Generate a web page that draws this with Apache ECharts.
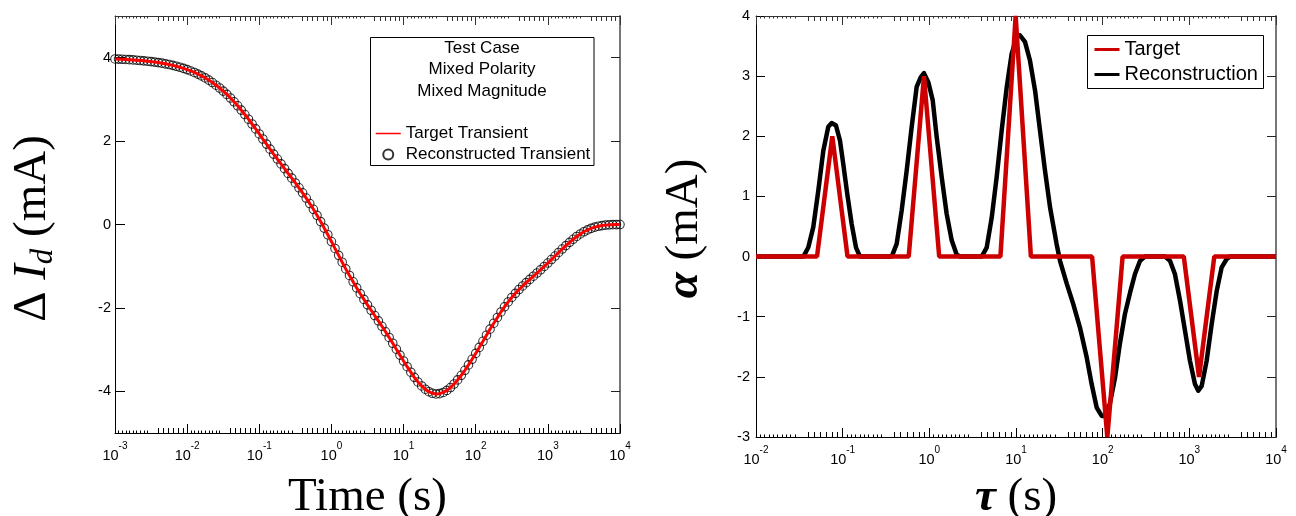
<!DOCTYPE html>
<html><head><meta charset="utf-8">
<script src="https://cdn.jsdelivr.net/npm/echarts/dist/echarts.min.js"></script>
<style>html,body{margin:0;padding:0;background:#fff}#c{width:1296px;height:516px}</style>
</head><body><div id="c"></div>
<script>
// ---------- data: left panel (transient) ----------
const timeS = [
1e-3,1.12e-3,1.26e-3,1.41e-3,1.58e-3,1.78e-3,2e-3,2.24e-3,2.51e-3,2.82e-3,3.16e-3,3.55e-3,3.98e-3,4.47e-3,5.01e-3,5.62e-3,6.31e-3,7.08e-3,7.94e-3,8.91e-3,
1e-2,1.12e-2,1.26e-2,1.41e-2,1.58e-2,1.78e-2,2e-2,2.24e-2,2.51e-2,2.82e-2,3.16e-2,3.55e-2,3.98e-2,4.47e-2,5.01e-2,5.62e-2,6.31e-2,7.08e-2,7.94e-2,8.91e-2,
1e-1,1.12e-1,1.26e-1,1.41e-1,1.58e-1,1.78e-1,2e-1,2.24e-1,2.51e-1,2.82e-1,3.16e-1,3.55e-1,3.98e-1,4.47e-1,5.01e-1,5.62e-1,6.31e-1,7.08e-1,7.94e-1,8.91e-1,
1,1.12,1.26,1.41,1.58,1.78,2,2.24,2.51,2.82,3.16,3.55,3.98,4.47,5.01,5.62,6.31,7.08,7.94,8.91,
10,11.2,12.6,14.1,15.8,17.8,20,22.4,25.1,28.2,31.6,35.5,39.8,44.7,50.1,56.2,63.1,70.8,79.4,89.1,
100,112,126,141,158,178,200,224,251,282,316,355,398,447,501,562,631,708,794,891,
1000,1120,1260,1410,1580,1780,2000,2240,2510,2820,3160,3550,3980,4470,5010,5620,6310,7080,7940,8910,
10000];
const deltaId = [
3.970,3.966,3.962,3.958,3.953,3.947,3.940,3.933,3.925,3.916,3.906,3.895,3.883,3.869,3.853,3.836,3.816,3.795,3.771,3.744,
3.715,3.682,3.646,3.607,3.563,3.515,3.462,3.404,3.341,3.273,3.199,3.120,3.034,2.943,2.846,2.744,2.637,2.525,2.410,2.292,
2.171,2.050,1.928,1.807,1.688,1.570,1.453,1.339,1.225,1.112,0.997,0.880,0.760,0.634,0.502,0.365,0.220,0.070,-0.086,-0.246,
-0.409,-0.574,-0.740,-0.904,-1.065,-1.222,-1.374,-1.520,-1.660,-1.796,-1.927,-2.056,-2.183,-2.311,-2.441,-2.573,-2.709,-2.848,-2.990,-3.132,
-3.273,-3.410,-3.542,-3.665,-3.776,-3.872,-3.950,-4.010,-4.047,-4.063,-4.056,-4.027,-3.978,-3.910,-3.825,-3.727,-3.616,-3.496,-3.367,-3.232,
-3.091,-2.947,-2.801,-2.655,-2.509,-2.367,-2.229,-2.097,-1.973,-1.857,-1.750,-1.651,-1.559,-1.474,-1.394,-1.316,-1.240,-1.163,-1.085,-1.006,
-0.924,-0.841,-0.756,-0.671,-0.588,-0.506,-0.428,-0.355,-0.287,-0.227,-0.174,-0.129,-0.092,-0.063,-0.042,-0.026,-0.015,-0.008,-0.004,-0.002,
-0.001];
const transientTicks = [-4,-2,0,2,4];
const legendTitleLines = ['Test Case','Mixed Polarity','Mixed Magnitude'];

// ---------- data: right panel (spectrum) ----------
const targetTau = [0.01,0.0506,0.0759,0.1138,0.578,0.867,1.30,6.61,9.91,14.86,75.5,113.2,169.8,863,1294,1941,10000];
const targetAlpha = [0,0,2,0,0,3,0,0,4,0,0,-3,0,0,-2,0,0];
const reconTau = [0.01,
0.0352,0.0401,0.0458,0.0524,0.0598,0.0683,0.0746,0.0837,0.0931,0.1016,0.113,0.1271,0.1426,0.1585,
0.368,0.42,0.48,0.548,0.625,0.714,0.794,0.867,0.973,1.094,1.216,1.39,1.585,1.811,2.07,2.26,
4.02,4.59,5.25,5.98,6.84,7.82,8.91,10.2,11.1,12.7,14.5,16.6,18.9,21.6,24.7,29.4,32.2,38.5,45.8,54.7,65.5,74.6,85.3,97.5,106,121,139,158,181,207,236,270,308,
524,598,682,780,891,1016,1161,1268,1390,1585,1811,2070,2360,2698,2944,
10000];
const reconAlpha = [0,
0,0.15,0.49,1.10,1.76,2.16,2.22,2.18,1.93,1.54,1.04,0.54,0.15,0,
0,0.21,0.77,1.43,2.15,2.82,2.98,3.05,2.90,2.60,1.99,1.32,0.71,0.27,0.03,0,
0,0.15,0.65,1.32,2.10,2.82,3.37,3.65,3.68,3.57,3.26,2.76,2.10,1.43,0.82,0.21,-0.07,-0.45,-0.79,-1.18,-1.68,-2.12,-2.51,-2.65,-2.65,-2.45,-2.01,-1.45,-0.95,-0.60,-0.29,-0.07,0,
0,-0.07,-0.29,-0.73,-1.23,-1.73,-2.12,-2.23,-2.15,-1.73,-1.12,-0.57,-0.18,-0.04,0,
0];

// minor tick placement inside each decade (fraction of a decade)
const smallTickFrac = [0.05,0.1,0.15,0.2,0.25,0.3,0.35,0.4,0.45];
const mediumTickFrac = [0.6,0.67,0.74,0.81,0.88,0.94];

const SANS = 'Liberation Sans, Arial, Helvetica, sans-serif';
const SERIF = 'Liberation Serif, Times New Roman, serif';

function decadeTicks(lo, hi, fracs) {
  const out = [];
  for (let d = lo; d < hi; d++) fracs.forEach(f => out.push(+(d + f).toFixed(3)));
  return out;
}
function decadeLabel(v) {
  const e = Math.round(Math.log10(v));
  return '{b|10}{s|' + e + '}';
}
const decadeRich = {
  b: {fontFamily: SANS, fontSize: 14.5, lineHeight: 22, verticalAlign: 'bottom', color: '#000'},
  s: {fontFamily: SANS, fontSize: 10, lineHeight: 12, verticalAlign: 'top', color: '#000'}
};

function logAxisSet(grid, lo, hi, name, nameGap, nameRich) {
  const base = {gridIndex: grid, splitLine: {show: false}, silent: true};
  const minorAxis = (pos, fracs, len, color) => Object.assign({}, base, {
    type: 'value', min: lo, max: hi, position: pos,
    axisLine: {show: false, onZero: false}, axisLabel: {show: false},
    axisTick: {show: true, inside: true, length: len, customValues: decadeTicks(lo, hi, fracs), lineStyle: {color: color, width: 1}}
  });
  return [
    Object.assign({}, base, {
      type: 'log', logBase: 10, min: Math.pow(10, lo), max: Math.pow(10, hi), position: 'bottom',
      axisLine: {onZero: false, lineStyle: {color: '#000', width: 1}},
      axisTick: {inside: true, length: 9, lineStyle: {color: '#000', width: 1}},
      axisLabel: {formatter: decadeLabel, rich: decadeRich, margin: 8},
      name: name, nameLocation: 'middle', nameGap: nameGap,
      nameTextStyle: {fontFamily: SERIF, fontSize: 47, color: '#000', lineHeight: 52, rich: nameRich}
    }),
    minorAxis('bottom', mediumTickFrac, 5, '#000'),
    minorAxis('bottom', smallTickFrac, 2.5, '#000'),
    Object.assign({}, base, {
      type: 'log', logBase: 10, min: Math.pow(10, lo), max: Math.pow(10, hi), position: 'top',
      axisLine: {onZero: false, lineStyle: {color: '#333', width: 1}},
      axisTick: {inside: true, length: 9, lineStyle: {color: '#333', width: 1}},
      axisLabel: {show: false}
    }),
    minorAxis('top', mediumTickFrac, 5, '#333'),
    minorAxis('top', smallTickFrac, 2.5, '#333')
  ];
}

const serifRich = {
  a: {fontFamily: SERIF, fontSize: 47, lineHeight: 52, color: '#000'},
  i: {fontFamily: SERIF, fontSize: 47, lineHeight: 52, fontStyle: 'italic', color: '#000'},
  bi: {fontFamily: SERIF, fontSize: 47, lineHeight: 52, fontStyle: 'italic', fontWeight: 'bold', color: '#000'},
  sub: {fontFamily: SERIF, fontSize: 31, lineHeight: 30, fontStyle: 'italic', verticalAlign: 'bottom', color: '#000'}
};

const xAxes = [].concat(
  logAxisSet(0, -3, 4, 'Time (s)', 39, serifRich),
  logAxisSet(1, -2, 4, '{bi|τ}{a| (s)}', 35, serifRich)
);

const yAxes = [
  {gridIndex: 0, type: 'value', min: -5, max: 5, position: 'left', splitLine: {show: false},
   axisLine: {onZero: false, lineStyle: {color: '#000', width: 1}},
   axisTick: {inside: true, length: 10, customValues: transientTicks, lineStyle: {color: '#000'}},
   axisLabel: {customValues: transientTicks, margin: 4, color: '#000', fontFamily: SANS, fontSize: 14.5},
   name: '{a|Δ }{i|I}{sub|d}{a| (mA)}', nameLocation: 'middle', nameGap: 56,
   nameTextStyle: {fontFamily: SERIF, fontSize: 47, color: '#000', rich: serifRich, padding: [0, 8, 0, 0]}},
  {gridIndex: 0, type: 'value', min: -5, max: 5, position: 'right', splitLine: {show: false},
   axisLine: {onZero: false, lineStyle: {color: '#777', width: 2}},
   axisTick: {inside: true, length: 9, customValues: transientTicks, lineStyle: {color: '#222'}},
   axisLabel: {show: false}},
  {gridIndex: 1, type: 'value', min: -3, max: 4, interval: 1, position: 'left', splitLine: {show: false},
   axisLine: {onZero: false, lineStyle: {color: '#000', width: 1}},
   axisTick: {inside: true, length: 9, lineStyle: {color: '#000'}},
   axisLabel: {margin: 6, color: '#000', fontFamily: SANS, fontSize: 14.5},
   name: '{bi|α}{a| (mA)}', nameLocation: 'middle', nameGap: 45,
   nameTextStyle: {fontFamily: SERIF, fontSize: 47, color: '#000', rich: serifRich, padding: [0, 4, 0, 0]}},
  {gridIndex: 1, type: 'value', min: -3, max: 4, interval: 1, position: 'right', splitLine: {show: false},
   axisLine: {onZero: false, lineStyle: {color: '#777', width: 2}},
   axisTick: {inside: true, length: 9, lineStyle: {color: '#222'}},
   axisLabel: {show: false}}
];

const hiddenSymbol = {opacity: 0};
const option = {
  animation: false,
  backgroundColor: '#fff',
  grid: [
    {left: 115, top: 16, width: 505, height: 417, containLabel: false, outerBoundsMode: 'none'},
    {left: 756, top: 16, width: 520, height: 421, containLabel: false, outerBoundsMode: 'none'}
  ],
  xAxis: xAxes,
  yAxis: yAxes,
  legend: [
    {left: 375, top: 125, padding: 0, orient: 'vertical', itemWidth: 25, itemHeight: 10, itemGap: 4,
     textStyle: {fontFamily: SANS, fontSize: 17, lineHeight: 17, color: '#000'},
     data: [{name: 'Target Transient', lineStyle: {width: 1.5}, itemStyle: hiddenSymbol},
            {name: 'Reconstructed Transient'}],
     selectedMode: false},
    {left: 1093, top: 39, padding: 0, orient: 'vertical', itemWidth: 25, itemHeight: 14, itemGap: 4,
     textStyle: {fontFamily: SANS, fontSize: 20, lineHeight: 21, color: '#000'},
     data: [{name: 'Target', lineStyle: {width: 3}, itemStyle: hiddenSymbol},
            {name: 'Reconstruction', lineStyle: {width: 3}, itemStyle: hiddenSymbol}],
     selectedMode: false}
  ],
  graphic: [
    {type: 'rect', z: -1, shape: {x: 370.5, y: 37.5, width: 223.5, height: 128}, style: {fill: '#fff', stroke: '#000', lineWidth: 1}},
    {type: 'rect', z: -1, shape: {x: 1087.5, y: 35.5, width: 176, height: 53}, style: {fill: '#fff', stroke: '#000', lineWidth: 1}}
  ].concat(legendTitleLines.map((t, i) => ({
    type: 'text', x: 482, y: 48.5 + i * 21.3,
    style: {text: t, fill: '#000', font: '17px ' + SANS, textAlign: 'center', textVerticalAlign: 'middle'}
  }))),
  series: [
    {name: 'Reconstructed Transient', type: 'scatter', xAxisIndex: 0, yAxisIndex: 0,
     symbol: 'circle', symbolSize: 8.5, symbolKeepAspect: true,
     itemStyle: {color: 'rgba(255,255,255,0)', borderColor: '#000', borderWidth: 1.1},
     data: timeS.map((t, i) => [t, deltaId[i]])},
    {name: 'Target Transient', type: 'line', xAxisIndex: 0, yAxisIndex: 0, symbol: 'none',
     color: '#ff0000', lineStyle: {color: '#ff0000', width: 3},
     data: timeS.map((t, i) => [t, deltaId[i]])},
    {name: 'Reconstruction', type: 'line', xAxisIndex: 6, yAxisIndex: 2, symbol: 'none',
     color: '#000', lineStyle: {color: '#000', width: 4.5, join: 'round'},
     data: reconTau.map((t, i) => [t, reconAlpha[i]])},
    {name: 'Target', type: 'line', xAxisIndex: 6, yAxisIndex: 2, symbol: 'none', clip: false,
     color: '#cc0000', lineStyle: {color: '#cc0000', width: 4.5},
     data: targetTau.map((t, i) => [t, targetAlpha[i]])}
  ]
};
const chart = echarts.init(document.getElementById('c'), null, {renderer: 'canvas'});
chart.setOption(option);
</script>
</body></html>
